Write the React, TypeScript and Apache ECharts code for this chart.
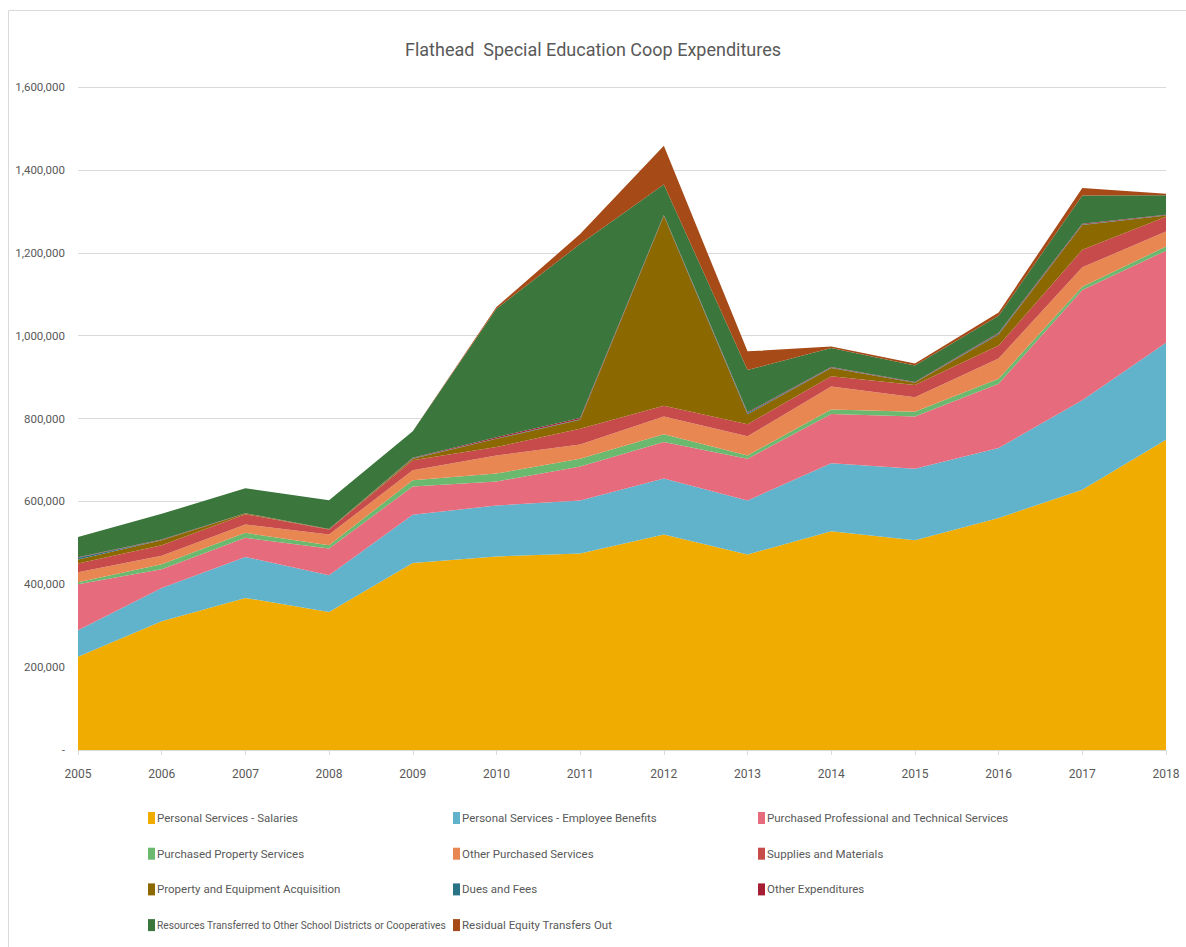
import React, { useEffect, useRef } from "react";
import * as echarts from "echarts";

const years = ["2005","2006","2007","2008","2009","2010","2011","2012","2013","2014","2015","2016","2017","2018"];

const salaries = [225000, 311000, 367000, 333000, 451000, 467000, 474000, 520000, 472000, 528000, 506000, 560000, 628000, 749000];
const benefits = [64000, 80000, 99000, 89000, 117000, 123000, 128000, 135000, 130000, 164000, 173000, 169000, 216000, 234000];
const professional = [111000, 45000, 46000, 64000, 68000, 58000, 82000, 88000, 101000, 119000, 126000, 155000, 266000, 222000];
const propertyServices = [5000, 12000, 12000, 8000, 15000, 19000, 19000, 19000, 8000, 11000, 11000, 12000, 8000, 10000];
const otherPurchased = [24000, 21000, 20000, 26000, 24000, 44000, 34000, 43000, 46000, 55000, 35000, 49000, 47000, 36000];
const supplies = [21000, 25000, 25000, 12000, 24000, 20000, 38000, 26000, 29000, 25000, 30000, 31000, 42000, 36000];
const equipment = [10000, 12000, 2000, 1000, 4000, 20000, 22000, 458000, 24000, 20000, 5000, 27000, 60000, 3000];
const duesFees = [4000, 1000, 0, 0, 1000, 1000, 1000, 1000, 3000, 1000, 1000, 2000, 1000, 500];
const otherExpenditures = [1000, 1000, 500, 500, 1000, 3000, 3000, 1000, 2000, 1000, 1000, 2000, 2000, 1000];
const transferred = [49000, 62000, 60000, 69000, 64000, 310000, 420000, 74000, 102000, 46000, 40000, 41000, 68000, 47000];
const residual = [0, 0, 0, 0, 0, 4000, 24000, 93000, 45000, 4000, 5000, 8000, 18000, 4000];

const seriesNames = [
  "Personal Services - Salaries",
  "Personal Services - Employee Benefits",
  "Purchased Professional and Technical Services",
  "Purchased Property Services",
  "Other Purchased Services",
  "Supplies and Materials",
  "Property and Equipment Acquisition",
  "Dues and Fees",
  "Other Expenditures",
  "Resources Transferred to Other School Districts or Cooperatives",
  "Residual Equity Transfers Out",
];
const seriesData = [salaries, benefits, professional, propertyServices, otherPurchased, supplies, equipment, duesFees, otherExpenditures, transferred, residual];
const colors = ["#F0AC00", "#61B3CC", "#E56B7D", "#6BB86F", "#E88752", "#C84B4B", "#8C6800", "#2A7385", "#A51E34", "#3B763C", "#A64A17"];

const FONT = "Roboto, 'Liberation Sans', sans-serif";
const TEXT = "#595959";
const LONG_NAME = seriesNames[9];

export default function App() {
  const ref = useRef<HTMLDivElement>(null);
  useEffect(() => {
    if (!ref.current) return;
    const chart = echarts.init(ref.current, undefined, { renderer: "svg" });
    const legendCols = [
      [0, 3, 6, 9],
      [1, 4, 7, 10],
      [2, 5, 8],
    ];
    const legendX = [148, 453, 758];
    chart.setOption({
      animation: false,
      backgroundColor: "#ffffff",
      textStyle: { fontFamily: FONT },
      title: {
        text: "Flathead  Special Education Coop Expenditures",
        left: "center",
        top: 35,
        textStyle: { fontFamily: FONT, fontSize: 18, fontWeight: "normal", color: TEXT },
      },
      graphic: [
        {
          type: "rect",
          shape: { x: 8.5, y: 10.5, width: 1300, height: 1100 },
          style: { fill: "none", stroke: "#d9d9d9", lineWidth: 1 },
          silent: true,
          z: -10,
        },
      ],
      legend: legendCols.map((idx, c) => ({
        orient: "vertical",
        left: legendX[c],
        top: 812,
        padding: 0,
        itemWidth: 7,
        itemHeight: 12,
        itemGap: 23.7,
        icon: "rect",
        selectedMode: false,
        data: idx.map((i) => seriesNames[i]),
        formatter: (name: string) => (name === LONG_NAME ? `{s|${name}}` : name),
        textStyle: {
          fontFamily: FONT,
          fontSize: 11.5,
          lineHeight: 12,
          color: TEXT,
          padding: [0, 0, 0, -3],
          rich: { s: { fontFamily: FONT, fontSize: 10.2, lineHeight: 12, color: TEXT } },
        },
      })),
      grid: { left: 78, right: 20, top: 87, bottom: 197, containLabel: false },
      xAxis: {
        type: "category",
        data: years,
        boundaryGap: false,
        axisLine: { lineStyle: { color: "#d9d9d9" } },
        axisTick: { show: true, length: 5, lineStyle: { color: "#d9d9d9" } },
        axisLabel: { color: TEXT, fontSize: 12, fontFamily: FONT, margin: 18 },
      },
      yAxis: {
        type: "value",
        min: 0,
        max: 1600000,
        interval: 200000,
        axisLine: { show: false },
        axisTick: { show: false },
        splitLine: { lineStyle: { color: "#d9d9d9", width: 1 } },
        axisLabel: {
          color: TEXT,
          fontSize: 11.5,
          fontFamily: FONT,
          margin: 13,
          formatter: (v: number) => (v === 0 ? "-" : v.toLocaleString("en-US")),
        },
      },
      series: seriesNames.map((name, i) => ({
        name,
        type: "line",
        stack: "total",
        data: seriesData[i],
        symbol: "none",
        showSymbol: false,
        lineStyle: { width: 0 },
        areaStyle: { color: colors[i], opacity: 1 },
        itemStyle: { color: colors[i] },
        emphasis: { disabled: true },
      })),
    });
    return () => chart.dispose();
  }, []);
  return <div ref={ref} style={{ position: "fixed", left: 0, top: 0, width: 1186, height: 947 }} />;
}
